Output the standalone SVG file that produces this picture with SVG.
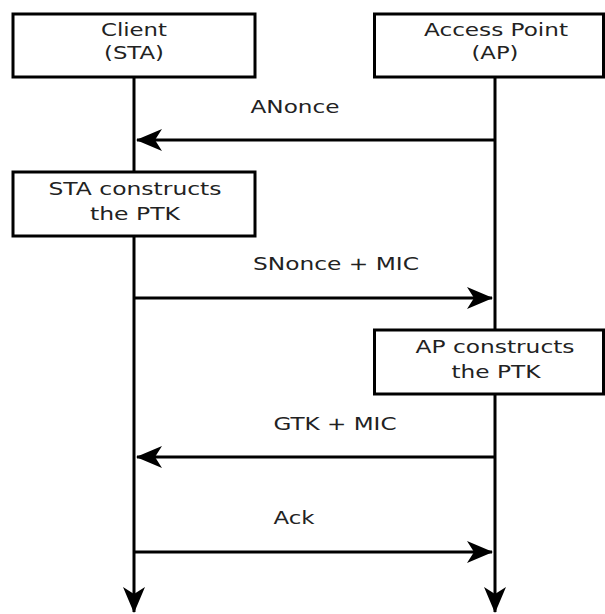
<svg xmlns="http://www.w3.org/2000/svg" width="605" height="614" viewBox="0 0 605 614">
<style>
.box{fill:#fff;stroke:#000;stroke-width:3}
.ln{fill:none;stroke:#000;stroke-width:3}
text{font-family:"DejaVu Sans",Verdana,sans-serif;font-size:17px;fill:#222;text-anchor:middle}
</style>
<defs>
<marker id="ah" markerUnits="userSpaceOnUse" markerWidth="30" markerHeight="30" viewBox="-28 -14 30 28" refX="0" refY="0" orient="auto">
<path d="M1,0 L-25,-11 L-18,0 L-25,11 Z" fill="#000"/>
</marker>
</defs>
<g id="connectors">
<line class="ln" x1="134" y1="77" x2="134" y2="612" marker-end="url(#ah)"/>
<line class="ln" x1="495" y1="77" x2="495" y2="612" marker-end="url(#ah)"/>
<line class="ln" x1="495" y1="140" x2="137" y2="140" marker-end="url(#ah)"/>
<line class="ln" x1="134" y1="298" x2="492" y2="298" marker-end="url(#ah)"/>
<line class="ln" x1="495" y1="457" x2="137" y2="457" marker-end="url(#ah)"/>
<line class="ln" x1="134" y1="552" x2="492" y2="552" marker-end="url(#ah)"/>
<text x="295" y="113" textLength="89" lengthAdjust="spacingAndGlyphs">ANonce</text>
<text x="336" y="270" textLength="166" lengthAdjust="spacingAndGlyphs">SNonce + MIC</text>
<text x="335" y="430" textLength="123" lengthAdjust="spacingAndGlyphs">GTK + MIC</text>
<text x="294" y="524" textLength="41" lengthAdjust="spacingAndGlyphs">Ack</text>
</g>
<g id="client">
<rect class="box" x="13" y="14" width="242" height="63"/>
<text x="134" y="36" textLength="66" lengthAdjust="spacingAndGlyphs">Client</text>
<text x="134" y="59" textLength="60" lengthAdjust="spacingAndGlyphs">(STA)</text>
</g>
<g id="ap">
<rect class="box" x="374.5" y="14" width="229" height="63"/>
<text x="496" y="36" textLength="144" lengthAdjust="spacingAndGlyphs">Access Point</text>
<text x="495" y="59" textLength="47" lengthAdjust="spacingAndGlyphs">(AP)</text>
</g>
<g id="sta-ptk">
<rect class="box" x="13" y="172" width="242" height="64"/>
<text x="135" y="195" textLength="173" lengthAdjust="spacingAndGlyphs">STA constructs</text>
<text x="135" y="220" textLength="90" lengthAdjust="spacingAndGlyphs">the PTK</text>
</g>
<g id="ap-ptk">
<rect class="box" x="374.5" y="330" width="229" height="64"/>
<text x="495" y="353" textLength="159" lengthAdjust="spacingAndGlyphs">AP constructs</text>
<text x="496" y="378" textLength="89" lengthAdjust="spacingAndGlyphs">the PTK</text>
</g>
</svg>
